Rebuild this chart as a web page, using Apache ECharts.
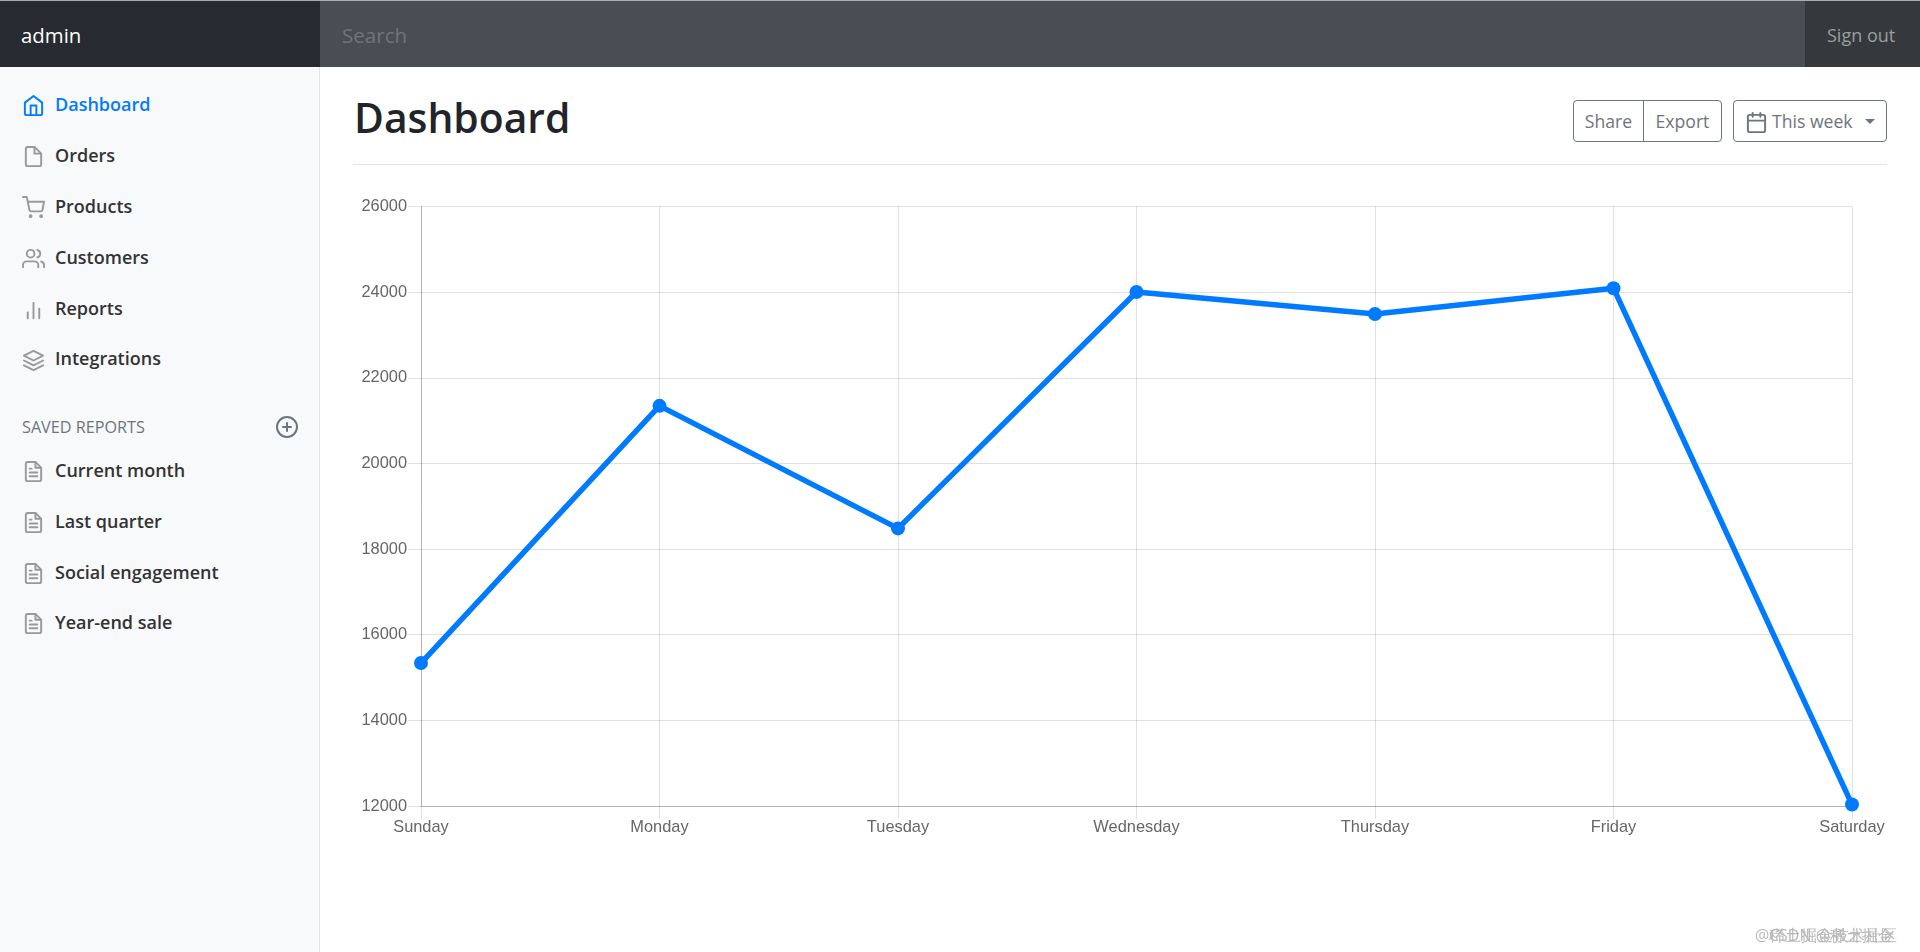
<!DOCTYPE html>
<html>
<head>
<meta charset="utf-8">
<title>Dashboard</title>
<script src="https://cdn.jsdelivr.net/npm/echarts@6/dist/echarts.min.js"></script>
<style>
html,body{margin:0;padding:0;width:1920px;height:952px;overflow:hidden;background:#fff;font-family:"Open Sans","Noto Sans",sans-serif;color:#212529}
.abs{position:absolute;white-space:nowrap;line-height:1}
#top{left:0;top:0;width:1920px;height:67px;background:#484e53;border-top:1px solid #a9adb1;box-sizing:border-box}
#brand{left:0;top:1px;width:320px;height:66px;background:#272b31}
#signbg{left:1805px;top:1px;width:115px;height:66px;background:#35393e}
#side{left:0;top:67px;width:320px;height:885px;background:#f8f9fb;border-right:1px solid #e3e5e8;box-sizing:border-box}
#chart{position:absolute;left:322px;top:170px;width:1598px;height:782px}
.nav{left:55px;font-size:18px;font-weight:600;color:#333}
.btn{border:1px solid #6c757d;box-sizing:border-box;height:42px;top:100px;color:#6c757d;font-size:17.6px;line-height:40px;text-align:center}
svg.ic{position:absolute;fill:none;stroke-width:2;stroke-linecap:round;stroke-linejoin:round}
</style>
</head>
<body>
<div id="top" class="abs"></div>
<div id="brand" class="abs"></div>
<div id="signbg" class="abs"></div>
<div id="side" class="abs"></div>
<div class="abs" style="left:21px;top:25px;font-size:20.4px;color:#fff">admin</div>
<div class="abs" style="left:342px;top:25px;font-size:20.6px;color:#6c757d">Search</div>
<div class="abs" style="left:1827px;top:26px;font-size:18px;color:#9a9d9f">Sign out</div>
<div class="abs" style="left:354px;top:97px;font-size:40.8px;font-weight:600;color:#212529">Dashboard</div>
<div class="abs" style="left:353px;top:164px;width:1534px;height:1px;background:#dee2e6"></div>
<div class="abs btn" style="left:1573px;width:71px;border-radius:4px 0 0 4px">Share</div>
<div class="abs btn" style="left:1643px;width:79px;border-radius:0 4px 4px 0">Export</div>
<div class="abs btn" style="left:1733px;width:154px;border-radius:4px;text-align:left;padding-left:38px">This week</div>
<div class="abs" style="left:1865px;top:119px;width:0;height:0;border-left:5px solid transparent;border-right:5px solid transparent;border-top:5px solid #6c757d"></div>
<div class="abs" style="left:22px;top:419px;font-size:16.2px;color:#6c757d">SAVED REPORTS</div>
<div id="chart"></div>
<div class="abs" style="left:1755px;top:927px;font-size:16px;color:#b8b8b8">@稀土掘金技术社区</div>
<div class="abs" style="left:1769px;top:927px;font-size:16px;color:#b8b8b8">CSDN @稀土掘金</div>
<script>
var categories = ['Sunday', 'Monday', 'Tuesday', 'Wednesday', 'Thursday', 'Friday', 'Saturday'];
var values = [15339, 21345, 18483, 24003, 23489, 24092, 12034];
var yTicks = {min: 12000, max: 26000, interval: 2000};
var navTop = ['Dashboard', 'Orders', 'Products', 'Customers', 'Reports', 'Integrations'];
var navSaved = ['Current month', 'Last quarter', 'Social engagement', 'Year-end sale'];

var ICONS = {
    Dashboard: '<path d="M3 9l9-7 9 7v11a2 2 0 0 1-2 2H5a2 2 0 0 1-2-2z"/><polyline points="9 22 9 12 15 12 15 22"/>',
    Orders: '<path d="M13 2H6a2 2 0 0 0-2 2v16a2 2 0 0 0 2 2h12a2 2 0 0 0 2-2V9z"/><polyline points="13 2 13 9 20 9"/>',
    Products: '<circle cx="9" cy="21" r="1"/><circle cx="20" cy="21" r="1"/><path d="M1 1h4l2.68 13.39a2 2 0 0 0 2 1.61h9.72a2 2 0 0 0 2-1.61L23 6H6"/>',
    Customers: '<path d="M17 21v-2a4 4 0 0 0-4-4H5a4 4 0 0 0-4 4v2"/><circle cx="9" cy="7" r="4"/><path d="M23 21v-2a4 4 0 0 0-3-3.87"/><path d="M16 3.13a4 4 0 0 1 0 7.75"/>',
    Reports: '<line x1="18" y1="20" x2="18" y2="10"/><line x1="12" y1="20" x2="12" y2="4"/><line x1="6" y1="20" x2="6" y2="14"/>',
    Integrations: '<polygon points="12 2 2 7 12 12 22 7 12 2"/><polyline points="2 17 12 22 22 17"/><polyline points="2 12 12 17 22 12"/>',
    file: '<path d="M14 2H6a2 2 0 0 0-2 2v16a2 2 0 0 0 2 2h12a2 2 0 0 0 2-2V8z"/><polyline points="14 2 14 8 20 8"/><line x1="16" y1="13" x2="8" y2="13"/><line x1="16" y1="17" x2="8" y2="17"/><polyline points="10 9 9 9 8 9"/>',
    plus: '<circle cx="12" cy="12" r="10"/><line x1="12" y1="8" x2="12" y2="16"/><line x1="8" y1="12" x2="16" y2="12"/>',
    calendar: '<rect x="3" y="4" width="18" height="18" rx="2" ry="2"/><line x1="16" y1="2" x2="16" y2="6"/><line x1="8" y1="2" x2="8" y2="6"/><line x1="3" y1="10" x2="21" y2="10"/>'
};

function addIcon(name, cx, cy, size, color) {
    var s = '<svg class="ic" viewBox="0 0 24 24" width="' + size + '" height="' + size + '" stroke="' + color + '"' +
        ' style="left:' + (cx - size / 2) + 'px;top:' + (cy - size / 2) + 'px">' + ICONS[name] + '</svg>';
    document.body.insertAdjacentHTML('beforeend', s);
}

function addNav(text, cy, icon, active) {
    var color = active ? '#007bff' : '#333';
    document.body.insertAdjacentHTML('beforeend',
        '<div class="abs nav" style="top:' + (cy - 10) + 'px;color:' + color + '">' + text + '</div>');
    addIcon(icon, 33, cy + 1, 23, active ? '#007bff' : '#999');
}

// nav rows were measured off the picture, they are not evenly spaced
var navTopY = [104.7, 155.7, 206.7, 257.7, 309, 359];
var navSavedY = [470.5, 521.7, 572.7, 622.7];
navTop.forEach(function (t, i) { addNav(t, navTopY[i], t, i === 0); });
navSaved.forEach(function (t, i) { addNav(t, navSavedY[i], 'file', false); });
addIcon('plus', 287, 427, 24, '#6c757d');
addIcon('calendar', 1756, 122, 23, '#6c757d');

var chart = echarts.init(document.getElementById('chart'));
var gridColor = 'rgba(0,0,0,0.12)';
var labelFont = {color: '#666', fontSize: 16.4, fontFamily: '"Liberation Sans", Arial, sans-serif'};
chart.setOption({
    animation: false,
    grid: {left: 99, top: 36.5, width: 1431, height: 599.5},
    xAxis: {
        type: 'category',
        boundaryGap: false,
        data: categories,
        axisLine: {lineStyle: {color: 'rgba(0,0,0,0.2)'}},
        axisTick: {length: 13, alignWithLabel: true, lineStyle: {color: gridColor}},
        axisLabel: Object.assign({margin: 13, interval: 0, hideOverlap: false, showMinLabel: true, showMaxLabel: true}, labelFont),
        splitLine: {show: true, lineStyle: {color: gridColor}}
    },
    yAxis: {
        type: 'value',
        min: yTicks.min,
        max: yTicks.max,
        interval: yTicks.interval,
        axisLine: {show: true, lineStyle: {color: 'rgba(0,0,0,0.2)'}},
        axisTick: {show: true, length: 13, lineStyle: {color: gridColor}},
        axisLabel: Object.assign({margin: 14, padding: [0, 0, 2, 0], formatter: function (v) { return String(v); }}, labelFont),
        splitLine: {show: true, lineStyle: {color: gridColor}}
    },
    series: [{
        type: 'line',
        data: values,
        symbol: 'circle',
        symbolSize: 14,
        clip: false,
        lineStyle: {color: '#007bff', width: 5.5},
        itemStyle: {color: '#007bff'}
    }]
});
</script>
</body>
</html>
